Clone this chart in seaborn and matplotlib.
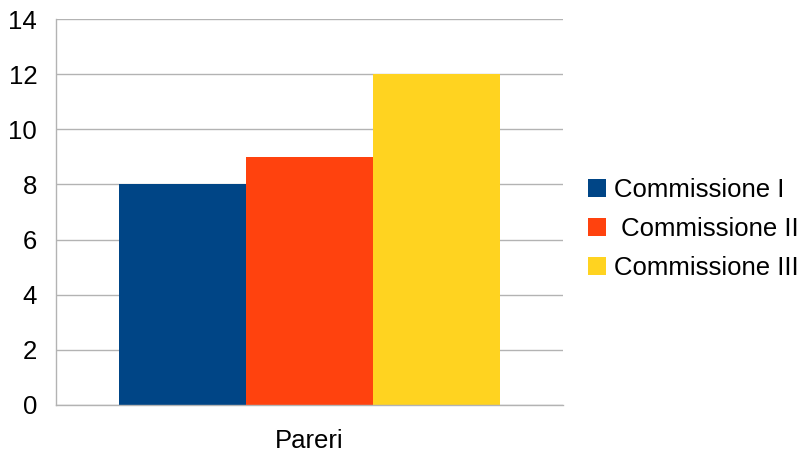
import pandas as pd
import matplotlib.pyplot as plt
import seaborn as sns

categories = ['Pareri']
series = ['Commissione I', ' Commissione II', 'Commissione III']
values = [8, 9, 12]
colors = ['#004586', '#ff420e', '#ffd320']

df = pd.DataFrame({'cat': categories * len(series), 'serie': series, 'val': values})

sns.set_style('white')
plt.rcParams['font.family'] = ['Liberation Sans', 'DejaVu Sans']
plt.rcParams['text.color'] = 'black'

fig = plt.figure(figsize=(8.02, 4.54), dpi=100)
ax = fig.add_axes([56 / 802, 1 - 405 / 454, (563 - 56) / 802, (405 - 19) / 454])
sns.barplot(data=df, x='cat', y='val', hue='serie', palette=colors,
            width=0.75, saturation=1, linewidth=0, ax=ax, zorder=2)

grid_c = '#b3b3b3'
ax.set_xlim(-0.5, 0.5)
ax.set_ylim(0, 14)
ax.set_yticks(range(0, 15, 2))
ax.yaxis.grid(True, color=grid_c, linewidth=1, zorder=0)
ax.set_axisbelow(True)
for s in ['top', 'right']:
    ax.spines[s].set_visible(False)
for s in ['left', 'bottom']:
    ax.spines[s].set_color(grid_c)
    ax.spines[s].set_linewidth(1)
ax.tick_params(axis='y', length=8.5, width=1, color=grid_c, labelsize=18.5,
               pad=5, labelcolor='black')
ax.tick_params(axis='x', which='major', length=0, labelsize=18.5, pad=17,
               labelcolor='black')
ax.set_xticks([-0.5, 0.5], minor=True)
ax.tick_params(axis='x', which='minor', length=7.5, width=1, color=grid_c)
ax.set_xlabel('')
ax.set_ylabel('')

leg = ax.legend(loc='center left', bbox_to_anchor=(1.004, 0.456), frameon=False,
                fontsize=18.5, handlelength=0.7, handleheight=0.7,
                handletextpad=0.3, labelspacing=0.58)

fig.savefig('out.png', dpi=100)
